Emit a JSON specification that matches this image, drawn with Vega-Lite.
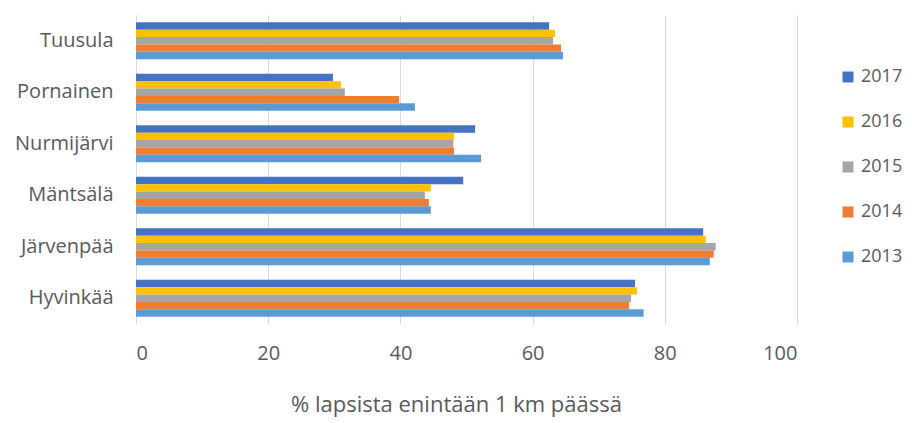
{
  "$schema": "https://vega.github.io/schema/vega-lite/v6.json",
  "width": 661,
  "height": 309,
  "autosize": {"type": "none"},
  "padding": {"left": 136, "top": 15, "right": 115, "bottom": 99},
  "background": "white",
  "data": {
    "values": [
      {"kunta": "Tuusula", "vuosi": "2017", "arvo": 62.5},
      {"kunta": "Tuusula", "vuosi": "2016", "arvo": 63.4},
      {"kunta": "Tuusula", "vuosi": "2015", "arvo": 63.1},
      {"kunta": "Tuusula", "vuosi": "2014", "arvo": 64.3},
      {"kunta": "Tuusula", "vuosi": "2013", "arvo": 64.6},
      {"kunta": "Pornainen", "vuosi": "2017", "arvo": 29.8},
      {"kunta": "Pornainen", "vuosi": "2016", "arvo": 31.0},
      {"kunta": "Pornainen", "vuosi": "2015", "arvo": 31.6},
      {"kunta": "Pornainen", "vuosi": "2014", "arvo": 39.8},
      {"kunta": "Pornainen", "vuosi": "2013", "arvo": 42.2},
      {"kunta": "Nurmijärvi", "vuosi": "2017", "arvo": 51.3},
      {"kunta": "Nurmijärvi", "vuosi": "2016", "arvo": 48.1},
      {"kunta": "Nurmijärvi", "vuosi": "2015", "arvo": 48.0},
      {"kunta": "Nurmijärvi", "vuosi": "2014", "arvo": 48.1},
      {"kunta": "Nurmijärvi", "vuosi": "2013", "arvo": 52.2},
      {"kunta": "Mäntsälä", "vuosi": "2017", "arvo": 49.5},
      {"kunta": "Mäntsälä", "vuosi": "2016", "arvo": 44.6},
      {"kunta": "Mäntsälä", "vuosi": "2015", "arvo": 43.7},
      {"kunta": "Mäntsälä", "vuosi": "2014", "arvo": 44.3},
      {"kunta": "Mäntsälä", "vuosi": "2013", "arvo": 44.6},
      {"kunta": "Järvenpää", "vuosi": "2017", "arvo": 85.8},
      {"kunta": "Järvenpää", "vuosi": "2016", "arvo": 86.2},
      {"kunta": "Järvenpää", "vuosi": "2015", "arvo": 87.7},
      {"kunta": "Järvenpää", "vuosi": "2014", "arvo": 87.4},
      {"kunta": "Järvenpää", "vuosi": "2013", "arvo": 86.8},
      {"kunta": "Hyvinkää", "vuosi": "2017", "arvo": 75.5},
      {"kunta": "Hyvinkää", "vuosi": "2016", "arvo": 75.8},
      {"kunta": "Hyvinkää", "vuosi": "2015", "arvo": 74.9},
      {"kunta": "Hyvinkää", "vuosi": "2014", "arvo": 74.6},
      {"kunta": "Hyvinkää", "vuosi": "2013", "arvo": 76.8}
    ]
  },
  "mark": {"type": "bar"},
  "encoding": {
    "y": {
      "field": "kunta",
      "type": "nominal",
      "sort": ["Tuusula", "Pornainen", "Nurmijärvi", "Mäntsälä", "Järvenpää", "Hyvinkää"],
      "scale": {"paddingInner": 0.28, "paddingOuter": 0.14},
      "axis": {
        "title": null,
        "ticks": false,
        "domain": true,
        "domainColor": "#d9d9d9",
        "labelFont": "Open Sans",
        "labelFontSize": 20,
        "labelColor": "#595959",
        "labelPadding": 23
      }
    },
    "yOffset": {
      "field": "vuosi",
      "type": "nominal",
      "sort": ["2017", "2016", "2015", "2014", "2013"]
    },
    "x": {
      "field": "arvo",
      "type": "quantitative",
      "scale": {"domain": [0, 100], "nice": false},
      "axis": {
        "title": "% lapsista enintään 1 km päässä",
        "titleFont": "Open Sans",
        "titleFontSize": 22,
        "titleFontWeight": "normal",
        "titleColor": "#595959",
        "titlePadding": 31,
        "titleX": 320,
        "values": [0, 20, 40, 60, 80, 100],
        "domain": false,
        "ticks": false,
        "grid": true,
        "gridColor": "#d9d9d9",
        "labelFont": "Open Sans",
        "labelFontSize": 20,
        "labelColor": "#595959",
        "labelPadding": 19
      }
    },
    "color": {
      "field": "vuosi",
      "type": "nominal",
      "scale": {
        "domain": ["2017", "2016", "2015", "2014", "2013"],
        "range": ["#4472C4", "#FFC000", "#A5A5A5", "#ED7D31", "#5B9BD5"]
      },
      "legend": {
        "title": null,
        "orient": "none",
        "legendX": 703,
        "legendY": 53,
        "symbolType": "square",
        "symbolSize": 121,
        "symbolStrokeWidth": 0,
        "labelFont": "Open Sans",
        "labelFontSize": 18,
        "labelColor": "#595959",
        "labelOffset": 4,
        "rowPadding": 27,
        "padding": 0
      }
    }
  },
  "config": {
    "view": {"stroke": null}
  }
}
